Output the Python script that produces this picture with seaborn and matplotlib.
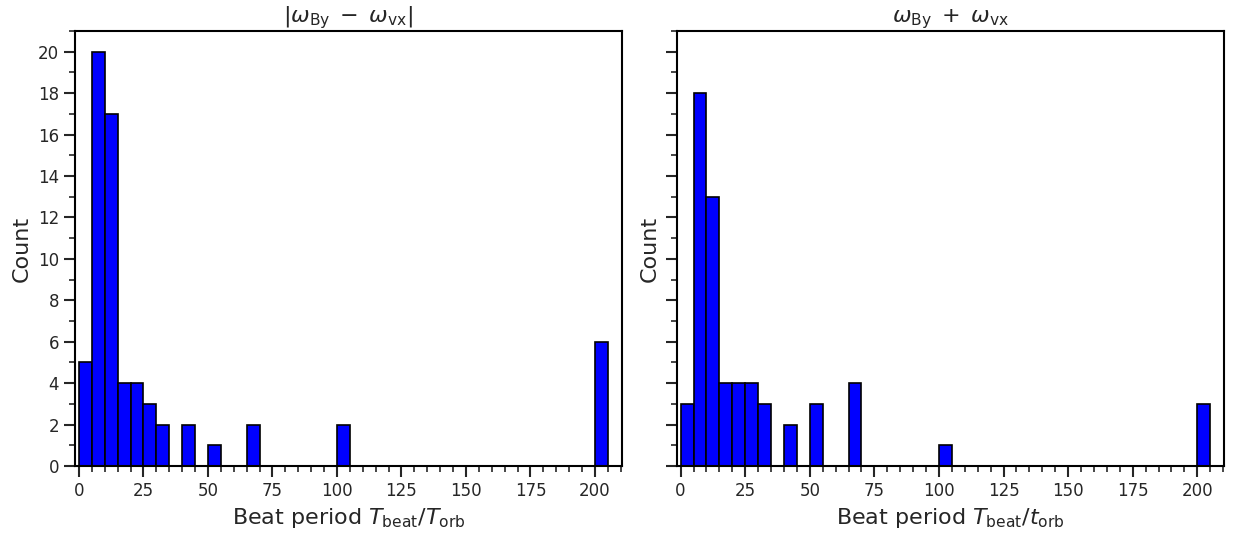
import matplotlib
matplotlib.use("Agg")
import matplotlib.pyplot as plt
from matplotlib.ticker import MultipleLocator
import pandas as pd
import seaborn as sns

# histogram bins (width 5, starting at 0)
BIN_EDGES = list(range(0, 206, 5))

# bin centres and counts, |w_By - w_vx|
PERIOD_DIFF = [2.5, 7.5, 12.5, 17.5, 22.5, 27.5, 32.5, 42.5, 52.5, 67.5, 102.5, 202.5]
COUNT_DIFF = [5, 20, 17, 4, 4, 3, 2, 2, 1, 2, 2, 6]

# bin centres and counts, w_By + w_vx
PERIOD_SUM = [2.5, 7.5, 12.5, 17.5, 22.5, 27.5, 32.5, 42.5, 52.5, 67.5, 102.5, 202.5]
COUNT_SUM = [3, 18, 13, 4, 4, 4, 3, 2, 3, 4, 1, 3]

TITLES = [r"$|\omega_{\rm By}\;-\;\omega_{\rm vx}|$", r"$\omega_{\rm By}\;+\;\omega_{\rm vx}$"]
XLABELS = [r"Beat period $T_{\rm beat}/T_{\rm orb}$", r"Beat period $T_{\rm beat}/t_{\rm orb}$"]

sns.set_style("ticks")
plt.rcParams.update({"font.family": ["DejaVu Sans"], "mathtext.fontset": "dejavusans"})

fig = plt.figure(figsize=(12.34, 5.36), dpi=100)
ax1 = fig.add_axes([0.0608, 0.1306, 0.4433, 0.8116])
ax2 = fig.add_axes([0.5484, 0.1306, 0.4438, 0.8116], sharey=ax1)

for ax, x, w, title, xlabel in [
    (ax1, PERIOD_DIFF, COUNT_DIFF, TITLES[0], XLABELS[0]),
    (ax2, PERIOD_SUM, COUNT_SUM, TITLES[1], XLABELS[1]),
]:
    df = pd.DataFrame({"period": x, "count": w})
    sns.histplot(data=df, x="period", weights="count", bins=BIN_EDGES, ax=ax,
                 color="#0000ff", edgecolor="black", linewidth=1.2, alpha=1)
    ax.set_xlim(-1.5, 210.5)
    ax.set_ylim(0, 21)
    ax.xaxis.set_major_locator(MultipleLocator(25))
    ax.xaxis.set_minor_locator(MultipleLocator(5))
    ax.yaxis.set_major_locator(MultipleLocator(2))
    ax.yaxis.set_minor_locator(MultipleLocator(1))
    ax.tick_params(which="major", direction="out", length=8, width=1.5, labelsize=12)
    ax.tick_params(which="minor", direction="out", length=4, width=1.2)
    for s in ax.spines.values():
        s.set_linewidth(1.5)
        s.set_color("black")
    ax.set_title(title, fontsize=16, pad=4)
    ax.set_xlabel(xlabel, fontsize=16)
    ax.set_ylabel("Count", fontsize=16)

plt.setp(ax2.get_yticklabels(), visible=False)

fig.savefig("out.png", dpi=100, facecolor="white")
plt.close(fig)
